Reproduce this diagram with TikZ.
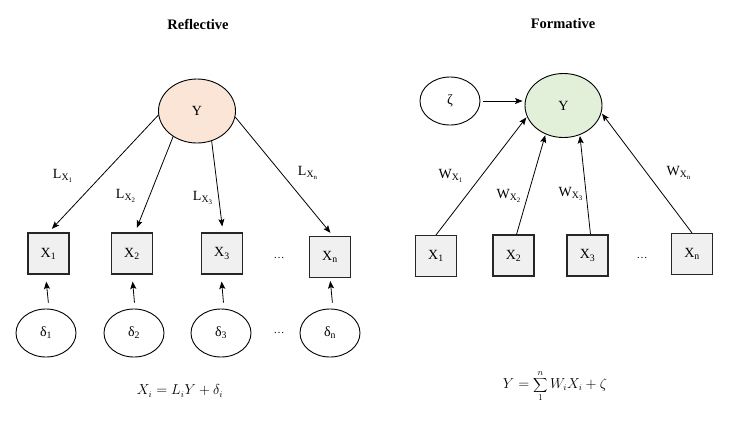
\documentclass[tikz,border=0pt]{standalone}
\usepackage{fontspec}
\setmainfont{Liberation Serif}
\usetikzlibrary{shapes.geometric,arrows.meta}
\definecolor{peach}{HTML}{FBE5D6}
\definecolor{mint}{HTML}{E2F0D9}
\begin{document}
\begin{tikzpicture}[x=1pt,y=-1pt,
  every node/.style={font=\fontsize{14}{16}\selectfont},
  latent/.style={ellipse,draw,line width=0.9pt,minimum width=77pt,minimum height=64pt,inner sep=0pt},
  errnode/.style={ellipse,draw,line width=0.9pt,minimum width=60pt,minimum height=48pt,inner sep=0pt,fill=white},
  indic/.style={rectangle,draw=black!85,line width=1.1pt,fill=gray!12,minimum width=41pt,minimum height=41pt,inner sep=0pt},
  arr/.style={-{Stealth[length=7.5pt,width=6pt,inset=1.5pt]},line width=0.8pt},
  lab/.style={font=\fontsize{14}{16}\selectfont},
  ttl/.style={font=\fontsize{14.5}{17}\selectfont\bfseries},
  dotsstyle/.style={font=\fontsize{11}{12}\selectfont},
  eqn/.style={font=\fontsize{13.5}{16}\selectfont}]
\useasboundingbox (0,0) rectangle (731,432);

% ---------- Reflective ----------
\node[ttl] (t1) at (198,24) {Reflective};
\node[latent,fill=peach] (Y1) at (197,111) {Y};

\node[indic] (A1) at (48.5,253.5) {X\textsubscript{1}};
\node[indic] (A2) at (132,253.5) {X\textsubscript{2}};
\node[indic] (A3) at (222,253.5) {X\textsubscript{3}};
\node[indic] (An) at (330,257) {X\textsubscript{n}};
\node[dotsstyle] (ad) at (279,258) {\dots};

\node[errnode] (d1) at (46,333) {δ\textsubscript{1}};
\node[errnode] (d2) at (134,333) {δ\textsubscript{2}};
\node[errnode] (d3) at (221,333) {δ\textsubscript{3}};
\node[errnode] (dn) at (330,333) {δ\textsubscript{n}};
\node[dotsstyle] (dd) at (279,333) {\dots};

\draw[arr,shorten >=5pt] (Y1.186) -- (A1.north);
\draw[arr,shorten >=5pt] (Y1.227) -- ([xshift=3pt]A2.north);
\draw[arr,shorten >=6pt] (Y1.296) -- ([xshift=1pt]A3.north);
\draw[arr,shorten >=4pt] (Y1.351) -- ([xshift=3pt]An.north);

\draw[arr,shorten <=6pt,shorten >=7pt] ([xshift=3pt]d1.north) -- ([xshift=-3pt]A1.south);
\draw[arr,shorten <=6pt,shorten >=7pt] ([xshift=1pt]d2.north) -- (A2.south);
\draw[arr,shorten <=6pt,shorten >=7pt] ([xshift=3pt]d3.north) -- ([xshift=-1pt]A3.south);
\draw[arr,shorten <=6pt,shorten >=3pt] ([xshift=3pt]dn.north) -- (An.south);

\node[lab] (l1) at (63,176) {L\textsubscript{X\textsubscript{1}}};
\node[lab] (l2) at (126,196) {L\textsubscript{X\textsubscript{2}}};
\node[lab] (l3) at (203,198) {L\textsubscript{X\textsubscript{3}}};
\node[lab] (ln) at (308,173) {L\textsubscript{X\textsubscript{n}}};

\node[eqn] (eq1) at (180,391) {$X_i = L_i Y + \delta_i$};

% ---------- Formative ----------
\node[ttl] (t2) at (563,24) {Formative};
\node[latent,fill=mint] (Y2) at (563.5,105.5) {Y};
\node[errnode] (z) at (450,101) {ζ};

\node[indic] (B1) at (436,256) {X\textsubscript{1}};
\node[indic] (B2) at (513.5,255.5) {X\textsubscript{2}};
\node[indic] (B3) at (587.5,255.5) {X\textsubscript{3}};
\node[indic] (Bn) at (692,254) {X\textsubscript{n}};
\node[dotsstyle] (bd) at (642,258) {\dots};

\draw[arr,shorten <=3pt,shorten >=2pt] (z.east) -- (Y2.west |- z.east);
\draw[arr,shorten >=1pt] (B1.north) -- (Y2.197);
\draw[arr,shorten >=1pt] ([xshift=3pt]B2.north) -- (Y2.238);
\draw[arr,shorten >=1pt] ([xshift=3pt]B3.north) -- (Y2.299);
\draw[arr,shorten >=1pt] (Bn.north) -- (Y2.349);

\node[lab] (w1) at (451,176) {W\textsubscript{X\textsubscript{1}}};
\node[lab] (w2) at (509,196) {W\textsubscript{X\textsubscript{2}}};
\node[lab] (w3) at (571,194) {W\textsubscript{X\textsubscript{3}}};
\node[lab] (wn) at (679,173) {W\textsubscript{X\textsubscript{n}}};

\node[eqn] (eq2) at (555,386) {$\displaystyle Y = \sum_{1}^{n} W_i X_i + \zeta$};
\end{tikzpicture}
\end{document}
